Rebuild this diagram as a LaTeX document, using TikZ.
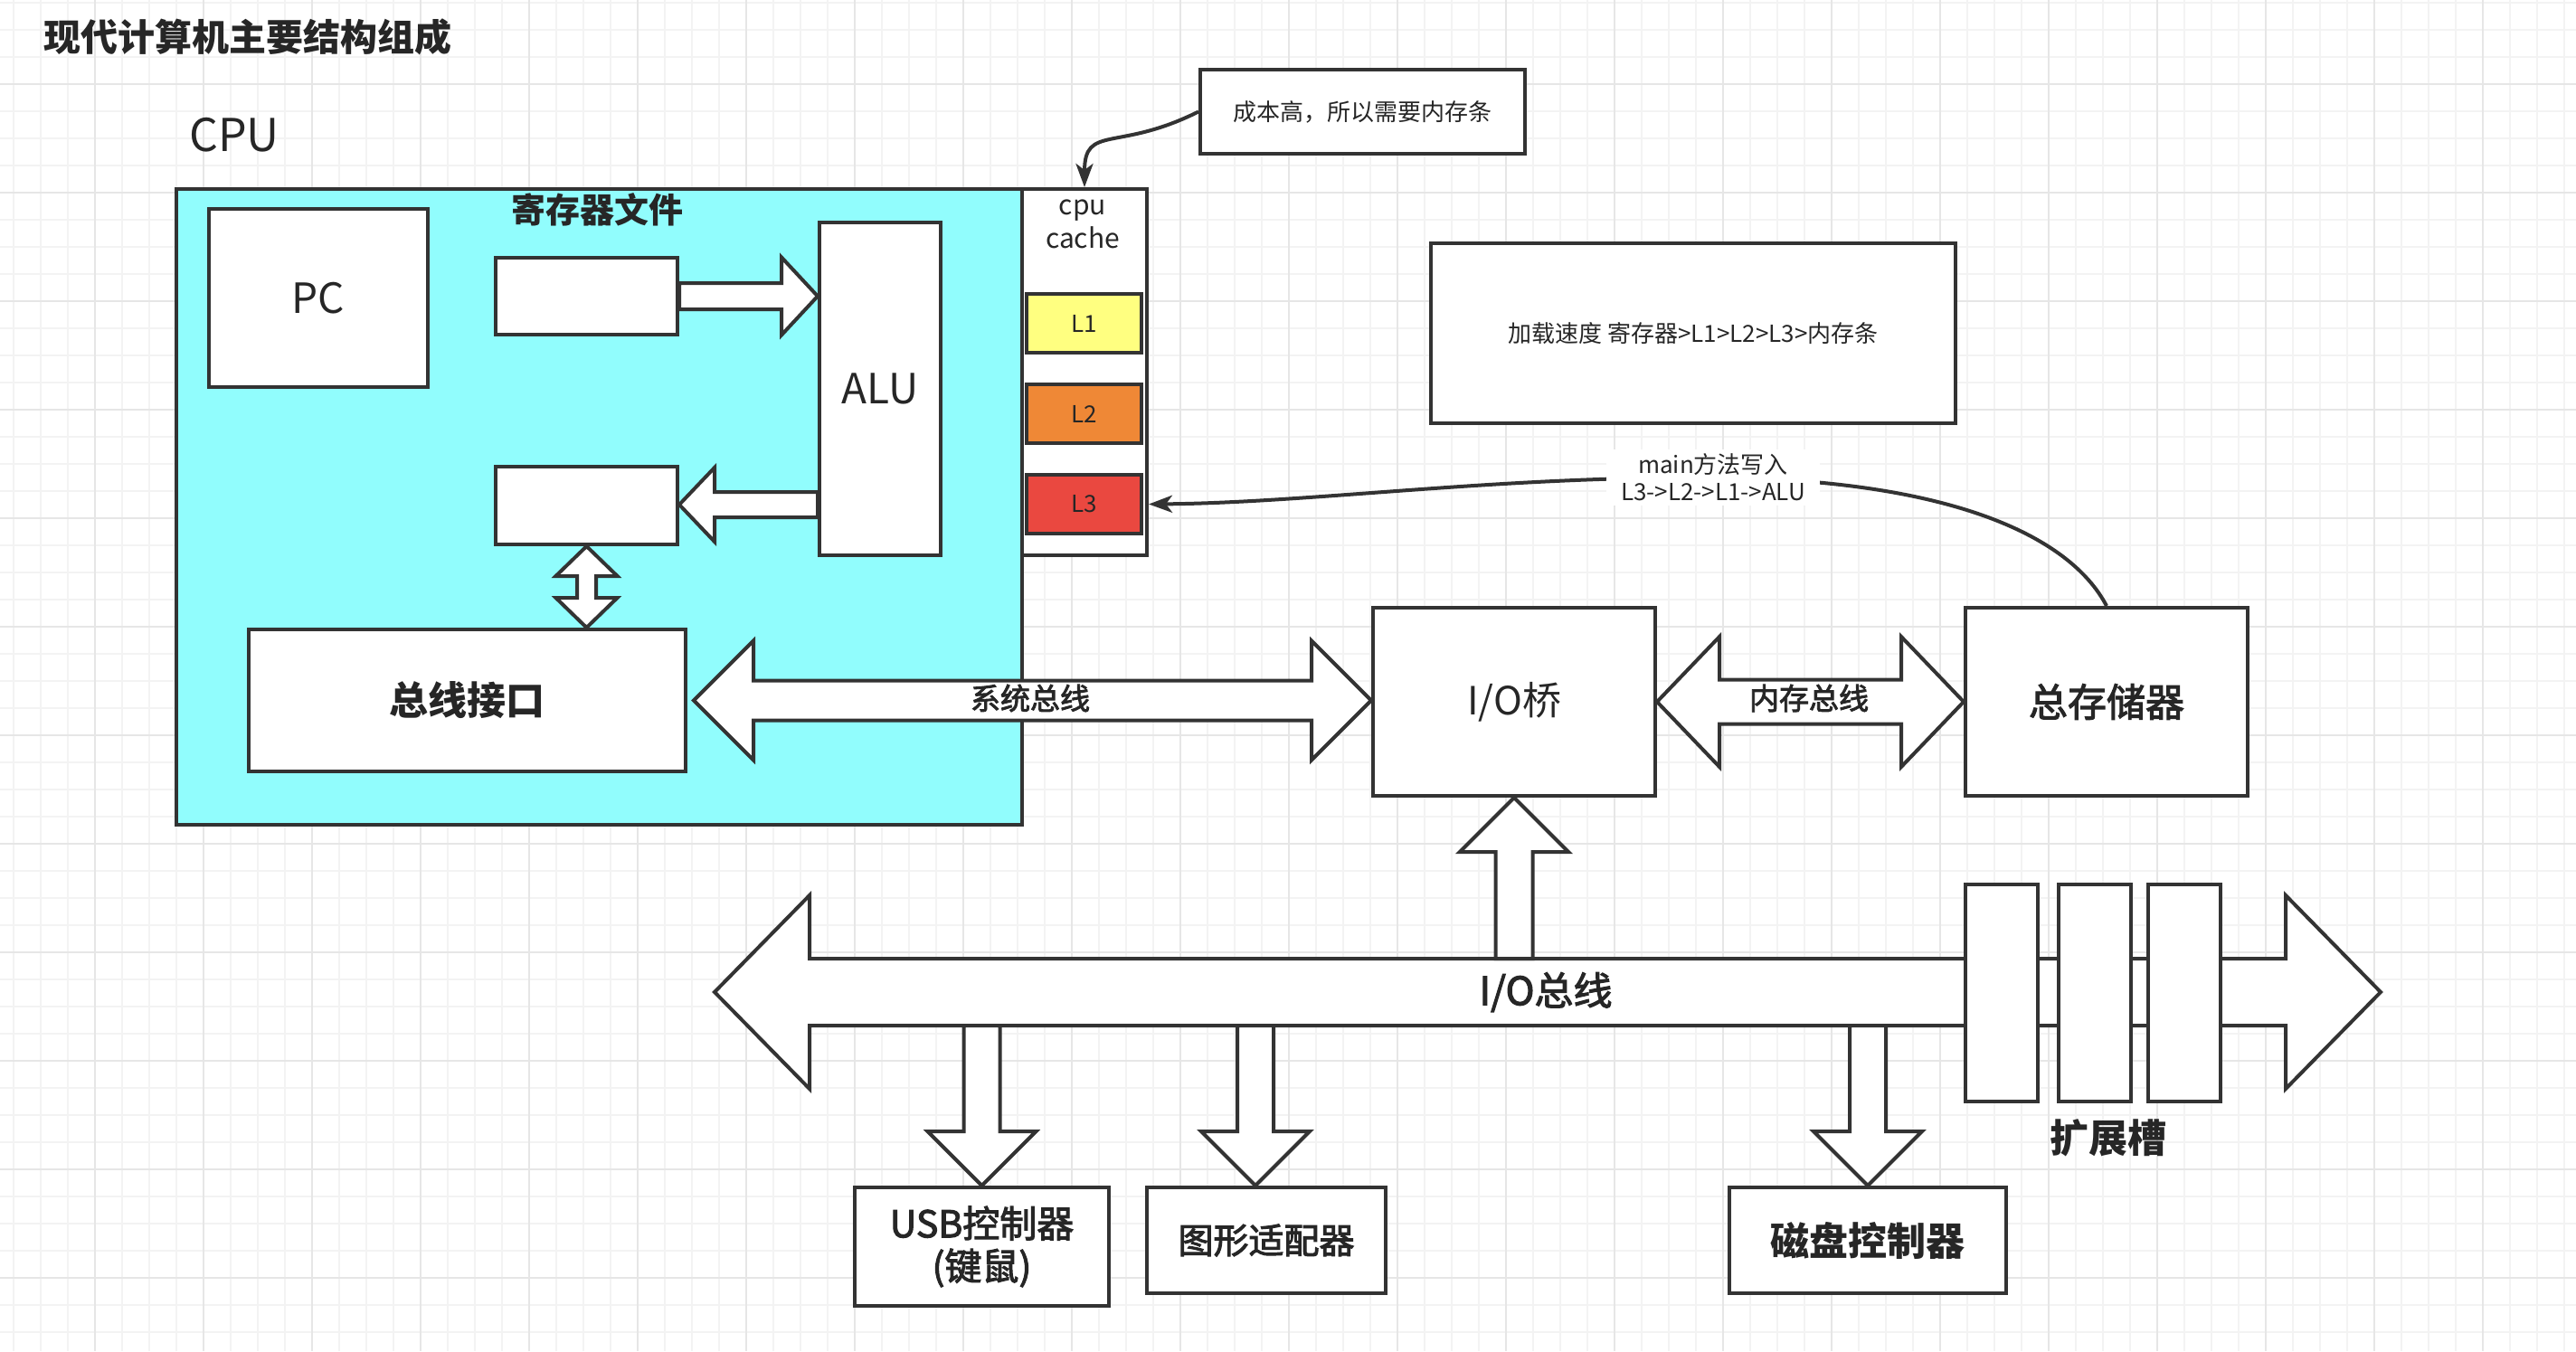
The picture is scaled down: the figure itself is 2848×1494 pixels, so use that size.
\documentclass[tikz,border=0pt]{standalone}
\usepackage{fontspec}
\setmainfont{Noto Sans CJK SC}
\newfontfamily\medfont{Noto Sans CJK SC}[FakeBold=2.6]
\usetikzlibrary{calc,arrows.meta}
\definecolor{strk}{HTML}{333333}
\definecolor{txt}{HTML}{262626}
\definecolor{cpucyan}{RGB}{145,253,253}
\definecolor{lone}{HTML}{FFFF80}
\definecolor{ltwo}{HTML}{EF8836}
\definecolor{lthree}{HTML}{EA4840}
\definecolor{gminor}{HTML}{F3F3F3}
\definecolor{gmajor}{HTML}{E6E6E6}
\newcommand{\fsz}[2]{\fontsize{#1pt}{#2pt}\selectfont}
% single fat arrow: #1 tail, #2 tip, #3 shaft half width, #4 head half width, #5 head length
\newcommand{\fatarrowA}[5]{%
  \path coordinate (fahb) at ($(#2)!#5!(#1)$);
  \draw[fatarrow] ($(#1)!#3!90:(#2)$) -- ($(fahb)!#3!-90:(#1)$) -- ($(fahb)!#4!-90:(#1)$) -- (#2)
    -- ($(fahb)!#4!90:(#1)$) -- ($(fahb)!#3!90:(#1)$) -- ($(#1)!#3!-90:(#2)$) -- cycle;
}
% double fat arrow: #1 tip, #2 tip
\newcommand{\fatarrowB}[5]{%
  \path coordinate (fahba) at ($(#1)!#5!(#2)$) coordinate (fahbb) at ($(#2)!#5!(#1)$);
  \draw[fatarrow] (#1) -- ($(fahba)!#4!90:(#2)$) -- ($(fahba)!#3!90:(#2)$) -- ($(fahbb)!#3!-90:(#1)$)
    -- ($(fahbb)!#4!-90:(#1)$) -- (#2) -- ($(fahbb)!#4!90:(#1)$) -- ($(fahbb)!#3!90:(#1)$)
    -- ($(fahba)!#3!-90:(#2)$) -- ($(fahba)!#4!-90:(#2)$) -- cycle;
}
\tikzset{
  boxw/.style={draw=strk, line width=4pt, fill=white, text=txt, inner sep=0pt, anchor=north west},
  fatarrow/.style={draw=strk, line width=4pt, fill=white, line join=miter, miter limit=10},
  lbl/.style={text=txt, inner sep=0pt},
  curvearrow/.style={draw=strk, line width=4pt, -{Stealth[length=26pt,width=19pt,inset=7pt]}},
  gminorst/.style={draw=gminor, line width=2pt},
  gmajorst/.style={draw=gmajor, line width=2.4pt},
}
\begin{document}
\begin{tikzpicture}[x=1pt,y=-1pt]
\useasboundingbox (0,0) rectangle (2848,1494);
\fill[white] (0,0) rectangle (2848,1494);
% grid
\foreach \x in {15,45,...,2835} {\draw[gminorst] (\x,0) -- (\x,1494);}
\foreach \y in {2.7,32.7,...,1480} {\draw[gminorst] (0,\y) -- (2848,\y);}
\foreach \x in {105,225,...,2800} {\draw[gmajorst] (\x,0) -- (\x,1494);}
\foreach \y in {92.7,212.7,...,1480} {\draw[gmajorst] (0,\y) -- (2848,\y);}

% title and CPU label
\node[lbl, anchor=west, font=\fsz{41}{48}\bfseries] (title) at (48,41) {现代计算机主要结构组成};
\node[lbl, anchor=west, font=\fsz{50}{56}] (cpulbl) at (209,149) {CPU};

% CPU box and cache
\node[boxw, fill=cpucyan, minimum width=935pt, minimum height=703pt] (cpu) at (193,207) {};
\node[boxw, minimum width=138pt, minimum height=405pt] (cache) at (1128,207) {};
\node[lbl, font=\fsz{30}{37}, align=center] (cachelbl) at (1197,248) {cpu\\cache};
\node[boxw, fill=lone, minimum width=127pt, minimum height=65pt, font=\fsz{26}{30}] (l1) at (1133,323) {L1};
\node[boxw, fill=ltwo, minimum width=127pt, minimum height=65pt, font=\fsz{26}{30}] (l2) at (1133,423) {L2};
\node[boxw, fill=lthree, minimum width=127pt, minimum height=65pt, font=\fsz{26}{30}] (l3) at (1133,523) {L3};

\node[lbl, font=\fsz{38}{44}\bfseries] (regfile) at (660,232) {寄存器文件};
\node[boxw, minimum width=242pt, minimum height=197pt, font=\fsz{46}{50}] (pc) at (229,229) {PC};
\node[boxw, minimum width=201pt, minimum height=85pt] (reg1) at (546,283) {};
\node[boxw, minimum width=201pt, minimum height=86pt] (reg2) at (546,514) {};
\node[boxw, minimum width=134pt, minimum height=368pt, font=\fsz{46}{50}] (alu) at (904,244) {ALU};
\node[boxw, minimum width=483pt, minimum height=157pt, font=\fsz{43}{48}\bfseries] (iface) at (273,694) {总线接口};

% other boxes
\node[boxw, minimum width=312pt, minimum height=208pt, font=\fsz{43}{48}] (bridge) at (1516,670) {I/O桥};
\node[boxw, minimum width=312pt, minimum height=208pt, font=\fsz{43}{48}\medfont] (mem) at (2171,670) {总存储器};
\node[boxw, minimum width=359pt, minimum height=93pt, font=\fsz{26}{30}] (note) at (1325,75) {成本高，所以需要内存条};
\node[boxw, minimum width=580pt, minimum height=199pt, font=\fsz{26}{30}] (speed) at (1580,267) {加载速度 寄存器>L1>L2>L3>内存条};
\node[boxw, minimum width=281pt, minimum height=131pt, font=\fsz{41}{47}\medfont, align=center] (usb) at (943,1311) {USB控制器\\(键鼠)};
\node[boxw, minimum width=264pt, minimum height=117pt, font=\fsz{39}{44}\medfont] (gfx) at (1266,1311) {图形适配器};
\node[boxw, minimum width=306pt, minimum height=117pt, font=\fsz{43}{48}\bfseries] (disk) at (1910,1311) {磁盘控制器};

% fat arrows inside CPU
\coordinate (t1) at (alu.west |- reg1.east);
\fatarrowA{reg1.east}{t1}{14.5pt}{43pt}{40pt}
\coordinate (t2a) at (0,558);
\coordinate (t2) at (alu.west |- t2a);
\coordinate (t2b) at (reg2.east |- t2a);
\fatarrowA{t2}{t2b}{14pt}{41pt}{39pt}
\coordinate (t3) at (reg2.south |- iface.north);
\fatarrowB{reg2.south}{t3}{10.5pt}{34pt}{33pt}

% system bus and memory bus
\coordinate (s4a) at ([xshift=7pt]iface.east);
\coordinate (s4b) at (bridge.west |- s4a);
\fatarrowB{s4a}{s4b}{22pt}{66pt}{66pt}
\node[lbl, font=\fsz{33}{38}\medfont] (sysbus) at (1139,772) {系统总线};
\fatarrowB{bridge.east}{mem.west}{24.5pt}{72pt}{69pt}
\node[lbl, font=\fsz{33}{38}\medfont] (membus) at (2000,772) {内存总线};

% I/O bus
\coordinate (busL) at (790,1097);
\coordinate (busR) at (2632,1097);
\fatarrowB{busL}{busR}{37pt}{107pt}{105pt}
\node[lbl, font=\fsz{43}{48}\medfont] (iobus) at (1709,1097) {I/O总线};
\coordinate (bustop) at (0,1060);
\coordinate (busbot) at (0,1134);
\coordinate (upb) at (bridge.south |- bustop);
\fatarrowA{upb}{bridge.south}{20.5pt}{60pt}{60pt}
\coordinate (ua) at (usb.north |- busbot);
\fatarrowA{ua}{usb.north}{20pt}{60pt}{60pt}
\coordinate (gtip) at ([xshift=-12pt]gfx.north);
\coordinate (ga) at (gtip |- busbot);
\fatarrowA{ga}{gtip}{20pt}{60pt}{60pt}
\coordinate (da) at (disk.north |- busbot);
\fatarrowA{da}{disk.north}{20pt}{60pt}{60pt}

% expansion slots
\node[boxw, minimum width=80pt, minimum height=240pt] (slot1) at (2171,976) {};
\node[boxw, minimum width=80pt, minimum height=240pt] (slot2) at (2274,976) {};
\node[boxw, minimum width=80pt, minimum height=240pt] (slot3) at (2373,976) {};
\node[lbl, font=\fsz{43}{48}\bfseries] (slotlbl) at (2331,1258) {扩展槽};

% curved connectors
\draw[curvearrow] (note.west) .. controls ($(note.west)+(-90,45)$) and ($(cache.north)+(0,-70)$) .. (cache.north);
\coordinate (lblpt) at (1894,528);
\coordinate (l3tip) at (cache.east |- l3.east);
\draw[curvearrow] (mem.north) .. controls ($(mem.north)+(-42,-80)$) and (2150,530) .. (lblpt)
   .. controls (1650,527) and (1450,556) .. (l3tip);
\node[fill=white, text=txt, inner xsep=0pt, inner ysep=5pt, minimum width=236pt, font=\fsz{26}{30}, align=center] (wlbl) at (lblpt) {main方法写入\\L3->L2->L1->ALU};
\end{tikzpicture}
\end{document}
